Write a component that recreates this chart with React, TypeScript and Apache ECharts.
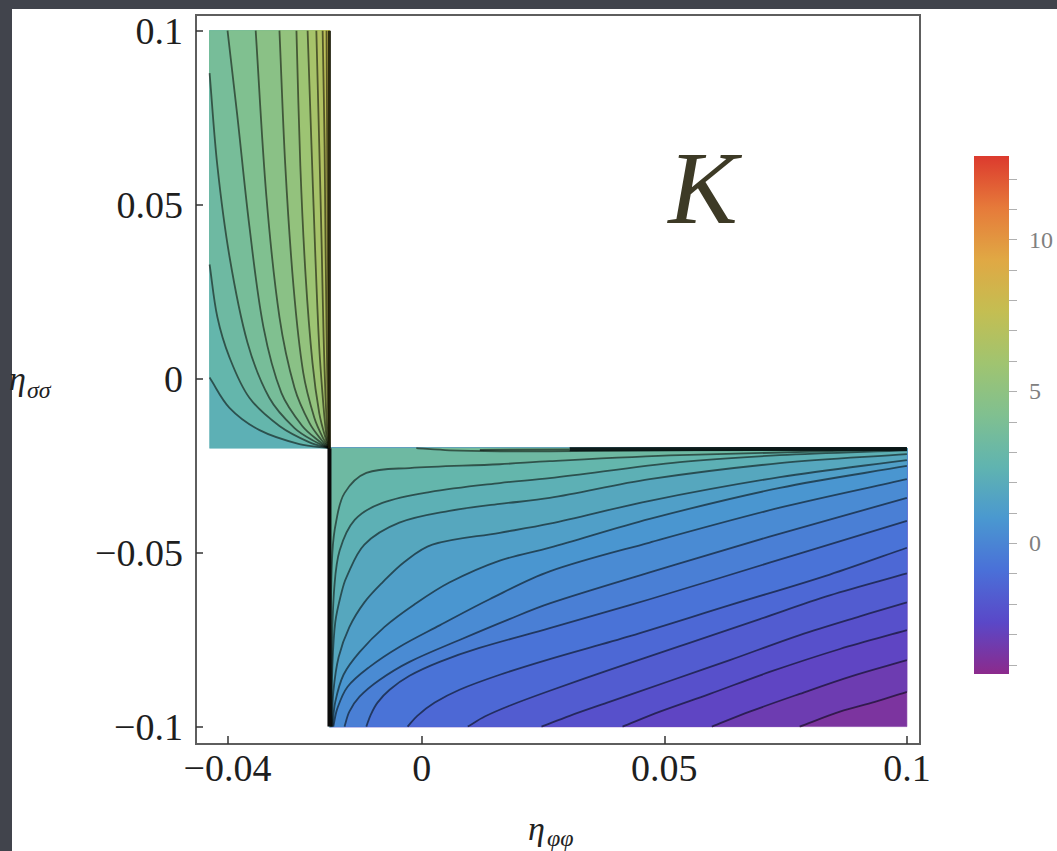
import React, { useEffect, useRef } from "react";
import * as echarts from "echarts";

// ---- axes / ticks ----
const X_TICKS = [-0.04, 0, 0.05, 0.1];
const Y_TICKS = [-0.1, -0.05, 0, 0.05, 0.1];
const BAR_LABELS = [0, 5, 10];
const BAR_TICKS = [-4, -3, -2, -1, 0, 1, 2, 3, 4, 5, 6, 7, 8, 9, 10, 11, 12];

const X_RANGE = [-0.0465, 0.1027];
const Y_RANGE = [-0.105, 0.1045];
const K_RANGE = [-4.3, 12.75];

// ---- domain of the two plotted regions ----
const X_LEFT = -0.0437;
const X_SING = -0.019;
const X_RIGHT = 0.1;
const Y_TOP = 0.1;
const Y_SING = -0.02;
const Y_BOTTOM = -0.1;

// colour scale (low -> high)
const PALETTE = ["#8c2a8c", "#5a48c8", "#4a70d8", "#4a98d0", "#60b4b0", "#80c090", "#a0c470", "#c4be52", "#e0a844", "#e67a3a", "#dc3a2e"];

// ---- contour levels and contour lines ----
const LR_LEVELS = [-3.5, -3, -2.5, -2, -1.5, -1, -0.5, 0, 0.5, 1, 1.5, 2, 2.5, 3, 3.5];
const LR_CONTOURS: number[][][] = [
  [[0.0779, -0.1], [0.0862, -0.0957], [0.0934, -0.0929], [0.1, -0.09]],
  [[0.0598, -0.1], [0.0676, -0.0957], [0.0779, -0.0906], [0.0882, -0.0857], [0.1, -0.0809]],
  [[0.0414, -0.1], [0.0491, -0.0957], [0.0594, -0.0906], [0.0717, -0.0843], [0.0862, -0.0777], [0.1, -0.0723]],
  [[0.0247, -0.1], [0.0305, -0.0969], [0.0387, -0.0929], [0.0511, -0.0869], [0.0635, -0.0809], [0.0779, -0.0737], [0.0903, -0.0683], [0.1, -0.0643]],
  [[0.0095, -0.1], [0.013, -0.0971], [0.0181, -0.094], [0.0264, -0.0897], [0.0387, -0.0837], [0.0532, -0.0769], [0.0697, -0.0691], [0.0841, -0.0623], [0.1, -0.056]],
  [[-0.0029, -0.1], [-0.0009, -0.0969], [0.0027, -0.0931], [0.0078, -0.0894], [0.0161, -0.0851], [0.0264, -0.0806], [0.0429, -0.074], [0.0635, -0.0651], [0.0841, -0.0563], [0.1, -0.0486]],
  [[-0.0114, -0.1], [-0.0105, -0.0966], [-0.0091, -0.0931], [-0.0066, -0.0894], [-0.0025, -0.0854], [0.0037, -0.0814], [0.0119, -0.0774], [0.0264, -0.0717], [0.047, -0.0634], [0.0717, -0.0529], [0.1, -0.0409]],
  [[-0.0159, -0.1], [-0.0149, -0.0957], [-0.0128, -0.0914], [-0.0087, -0.0866], [-0.0025, -0.0814], [0.0078, -0.0751], [0.0181, -0.0691], [0.0264, -0.0646], [0.047, -0.0557], [0.0717, -0.0454], [0.1, -0.0343]],
  [[-0.0182, -0.1], [-0.0174, -0.0949], [-0.0153, -0.0886], [-0.0108, -0.0829], [-0.0046, -0.0771], [0.0037, -0.0709], [0.014, -0.0634], [0.0264, -0.0554], [0.047, -0.0471], [0.0738, -0.0371], [0.1, -0.0289]],
  [[-0.0184, -0.1], [-0.0178, -0.0929], [-0.0161, -0.0851], [-0.0128, -0.0786], [-0.0077, -0.0714], [-0.0015, -0.0649], [0.0057, -0.0586], [0.0161, -0.0523], [0.0264, -0.0486], [0.047, -0.0403], [0.0738, -0.0314], [0.1, -0.0251]],
  [[-0.0185, -0.1], [-0.0182, -0.09], [-0.0171, -0.08], [-0.0149, -0.0714], [-0.0118, -0.0643], [-0.0081, -0.0586], [-0.0035, -0.0526], [0.0022, -0.0477], [0.0161, -0.0443], [0.0264, -0.0417], [0.047, -0.0351], [0.0738, -0.0283], [0.1, -0.0234]],
  [[-0.0186, -0.1], [-0.0184, -0.0829], [-0.0178, -0.07], [-0.0165, -0.0614], [-0.0155, -0.0571], [-0.0118, -0.0477], [-0.0046, -0.0414], [0.0057, -0.038], [0.0161, -0.036], [0.0264, -0.0343], [0.047, -0.0289], [0.0738, -0.0243], [0.1, -0.0217]],
  [[-0.0187, -0.1], [-0.0185, -0.0771], [-0.018, -0.06], [-0.0169, -0.0494], [-0.0138, -0.0406], [-0.0081, -0.0357], [0.0016, -0.0326], [0.0161, -0.03], [0.0264, -0.0286], [0.0532, -0.024], [0.0738, -0.022], [0.1, -0.0206]],
  [[-0.0188, -0.1], [-0.0187, -0.0686], [-0.0184, -0.05], [-0.0176, -0.0409], [-0.0159, -0.0329], [-0.0114, -0.0271], [-0.0025, -0.0257], [0.0161, -0.0246], [0.0264, -0.0237], [0.0532, -0.022], [0.1, -0.0203]],
  [[-0.0011, -0.02], [0.0057, -0.0206], [0.0161, -0.0209], [0.0264, -0.0209], [0.0429, -0.0207], [0.1, -0.0201]],
];

const UL_LEVELS = [2.5, 3, 3.5, 4, 4.5, 5, 5.5, 6, 6.5, 7, 7.5];
const UL_CONTOURS: number[][][] = [
  [[-0.019, -0.02], [-0.0252, -0.0188], [-0.0334, -0.0148], [-0.0396, -0.0084], [-0.0437, 0.0003]],
  [[-0.019, -0.02], [-0.0231, -0.0183], [-0.0293, -0.0136], [-0.0355, -0.0055], [-0.0396, 0.0061], [-0.0421, 0.0177], [-0.0437, 0.0328]],
  [[-0.019, -0.02], [-0.0217, -0.0183], [-0.0262, -0.0142], [-0.0314, -0.0055], [-0.0359, 0.0104], [-0.0396, 0.0351], [-0.0421, 0.0612], [-0.0437, 0.0878]],
  [[-0.019, -0.02], [-0.0211, -0.018], [-0.0246, -0.0136], [-0.0289, -0.0041], [-0.0326, 0.0148], [-0.0355, 0.0438], [-0.038, 0.0757], [-0.04, 0.1]],
  [[-0.019, -0.02], [-0.0206, -0.0177], [-0.0231, -0.0128], [-0.0262, -0.0026], [-0.0293, 0.0177], [-0.032, 0.0525], [-0.0342, 0.1]],
  [[-0.019, -0.02], [-0.0202, -0.0174], [-0.0221, -0.0113], [-0.0244, 0.0017], [-0.0264, 0.0264], [-0.0281, 0.0612], [-0.0293, 0.1]],
  [[-0.019, -0.02], [-0.0198, -0.0171], [-0.0211, -0.0099], [-0.0225, 0.0046], [-0.0239, 0.0293], [-0.025, 0.0612], [-0.0258, 0.1]],
  [[-0.019, -0.02], [-0.0196, -0.0165], [-0.0202, -0.0084], [-0.0211, 0.009], [-0.0219, 0.0351], [-0.0227, 0.067], [-0.0235, 0.1]],
  [[-0.019, -0.02], [-0.0194, -0.0157], [-0.0198, -0.0055], [-0.0202, 0.0119], [-0.0206, 0.038], [-0.0211, 0.067], [-0.0217, 0.1]],
  [[-0.019, -0.02], [-0.0192, -0.0142], [-0.0194, -0.0026], [-0.0196, 0.0148], [-0.0198, 0.038], [-0.02, 0.067], [-0.0204, 0.1]],
  [[-0.019, -0.02], [-0.0191, -0.0113], [-0.0192, 0.009], [-0.0194, 0.0525], [-0.0196, 0.1]],
];

// dense contour pile-up along the upper edge of the lower region
const TOP_PILE_FAINT = [[0.012, -0.0205], [0.0305, -0.0204]];
const TOP_PILE = [[0.0305, -0.0203], [0.1, -0.0202]];

const SERIF = '"Liberation Serif", "Times New Roman", serif';

type Shape = { kind: "fill" | "line"; pts: number[][]; close: number[][]; value: number; stroke?: string; width?: number; smooth?: boolean };

function buildShapes(): Shape[] {
  const shapes: Shape[] = [];
  const lrStep = (LR_LEVELS[1] - LR_LEVELS[0]) / 2;
  const ulStep = (UL_LEVELS[1] - UL_LEVELS[0]) / 2;
  // lower-right region
  shapes.push({ kind: "fill", value: LR_LEVELS[0] - lrStep, pts: [[X_SING, Y_SING], [X_RIGHT, Y_SING], [X_RIGHT, Y_BOTTOM], [X_SING, Y_BOTTOM]], close: [] });
  LR_CONTOURS.forEach((c, i) => {
    const s = c[0];
    const close = Math.abs(s[1] - Y_BOTTOM) < 1e-9
      ? [[X_RIGHT, Y_SING], [X_SING, Y_SING], [X_SING, Y_BOTTOM]]
      : [[X_RIGHT, Y_SING]];
    shapes.push({ kind: "fill", value: LR_LEVELS[i] + lrStep, pts: c, close, smooth: true });
  });
  // upper-left region
  shapes.push({ kind: "fill", value: UL_LEVELS[0] - ulStep, pts: [[X_LEFT, Y_SING], [X_SING, Y_SING], [X_SING, Y_TOP], [X_LEFT, Y_TOP]], close: [] });
  UL_CONTOURS.forEach((c, i) => {
    const e = c[c.length - 1];
    const close = Math.abs(e[0] - X_LEFT) < 1e-9 ? [[X_LEFT, Y_TOP], [X_SING, Y_TOP]] : [[X_SING, Y_TOP]];
    shapes.push({ kind: "fill", value: UL_LEVELS[i] + ulStep, pts: c, close, smooth: true });
  });
  // contour lines
  [...LR_CONTOURS, ...UL_CONTOURS].forEach((c) => {
    shapes.push({ kind: "line", value: 0, pts: c, close: [], stroke: "rgba(0,0,0,0.55)", width: 1.8, smooth: true });
  });
  shapes.push({ kind: "line", value: 0, pts: TOP_PILE_FAINT, close: [], stroke: "rgba(0,0,0,0.55)", width: 2 });
  shapes.push({ kind: "line", value: 0, pts: TOP_PILE, close: [], stroke: "rgba(8,20,20,0.95)", width: 4 });
  shapes.push({ kind: "line", value: 0, pts: [[X_SING, Y_TOP], [X_SING, Y_SING]], close: [], stroke: "rgba(28,28,8,0.9)", width: 3 });
  shapes.push({ kind: "line", value: 0, pts: [[X_SING, Y_SING], [X_SING, Y_BOTTOM]], close: [], stroke: "#0b0b0b", width: 4 });
  return shapes;
}

// smooth curve through the given pixel points (cubic segments, tangent length limited to a third of each segment)
function curvePath(p: number[][], smooth: boolean): string {
  const n = p.length;
  let d = `M${p[0][0].toFixed(2)},${p[0][1].toFixed(2)}`;
  if (!smooth || n < 3) {
    for (let i = 1; i < n; i++) d += ` L${p[i][0].toFixed(2)},${p[i][1].toFixed(2)}`;
    return d;
  }
  const tan = p.map((_, i) => {
    const a = p[Math.max(0, i - 1)];
    const b = p[Math.min(n - 1, i + 1)];
    const dx = b[0] - a[0];
    const dy = b[1] - a[1];
    const l = Math.hypot(dx, dy) || 1;
    return [dx / l, dy / l];
  });
  for (let i = 0; i < n - 1; i++) {
    const a = p[i];
    const b = p[i + 1];
    const s = Math.hypot(b[0] - a[0], b[1] - a[1]) / 3;
    const c1 = [a[0] + tan[i][0] * s, a[1] + tan[i][1] * s];
    const c2 = [b[0] - tan[i + 1][0] * s, b[1] - tan[i + 1][1] * s];
    d += ` C${c1[0].toFixed(2)},${c1[1].toFixed(2)} ${c2[0].toFixed(2)},${c2[1].toFixed(2)} ${b[0].toFixed(2)},${b[1].toFixed(2)}`;
  }
  return d;
}

const fmt = (v: number) => (v < 0 ? "\u2212" : "") + String(Math.abs(v));

function txt(x: number, y: number, text: string, size: number, color: string, italic: boolean, align = "left") {
  return {
    type: "text",
    x,
    y,
    silent: true,
    style: {
      text,
      font: `${italic ? "italic " : ""}${size}px ${SERIF}`,
      fontSize: size,
      fontStyle: italic ? "italic" : "normal",
      fontFamily: SERIF,
      fill: color,
      textFill: color,
      align,
      textAlign: align,
      verticalAlign: "middle",
      textVerticalAlign: "middle",
    },
  };
}

export default function App() {
  const ref = useRef<HTMLDivElement>(null);
  useEffect(() => {
    if (!ref.current) return;
    const chart = echarts.init(ref.current, null, { renderer: "svg", width: 1057, height: 851 });
    const shapes = buildShapes();
    const gradStops = PALETTE.map((c, i) => ({ offset: i / (PALETTE.length - 1), color: c }));
    chart.setOption({
      animation: false,
      backgroundColor: "transparent",
      grid: [
        { left: 196, top: 15, width: 724, height: 729, show: true, borderColor: "#5e5e5e", borderWidth: 2, backgroundColor: "transparent" },
        { left: 974, top: 156, width: 35, height: 518, show: false },
      ],
      xAxis: [
        {
          type: "value", gridIndex: 0, min: X_RANGE[0], max: X_RANGE[1],
          splitLine: { show: false }, axisLine: { show: false, onZero: false },
          axisTick: { show: true, inside: true, length: 8, customValues: X_TICKS, lineStyle: { color: "#333", width: 1.5 } },
          axisLabel: { customValues: X_TICKS, formatter: fmt, fontFamily: SERIF, fontSize: 38, color: "#1e1e1e", margin: 5 },
        },
        { type: "value", gridIndex: 1, min: 0, max: 1, show: false },
      ],
      yAxis: [
        {
          type: "value", gridIndex: 0, min: Y_RANGE[0], max: Y_RANGE[1],
          splitLine: { show: false }, axisLine: { show: false, onZero: false },
          axisTick: { show: true, inside: true, length: 7, customValues: Y_TICKS, lineStyle: { color: "#333", width: 1.5 } },
          axisLabel: { customValues: Y_TICKS, formatter: fmt, fontFamily: SERIF, fontSize: 38, color: "#1e1e1e", margin: 13 },
        },
        {
          type: "value", gridIndex: 1, min: K_RANGE[0], max: K_RANGE[1], position: "right",
          splitLine: { show: false }, axisLine: { show: false, onZero: false },
          axisTick: { show: true, length: 8, customValues: BAR_TICKS, lineStyle: { color: "#b0b0b0", width: 1 } },
          axisLabel: { customValues: BAR_LABELS, fontFamily: SERIF, fontSize: 24, color: "#808080", margin: 20 },
        },
      ],
      visualMap: {
        type: "continuous", show: false, min: K_RANGE[0], max: K_RANGE[1], dimension: 2, seriesIndex: 0,
        inRange: { color: PALETTE },
      },
      series: [
        {
          type: "custom", xAxisIndex: 0, yAxisIndex: 0, silent: true,
          encode: { x: 0, y: 1 },
          data: shapes.map((s) => [s.pts[0][0], s.pts[0][1], s.value]),
          renderItem: (params: any, api: any) => {
            const s = shapes[params.dataIndex];
            const px = s.pts.map((p) => api.coord(p));
            let d = curvePath(px, !!s.smooth);
            if (s.kind === "fill") {
              s.close.forEach((p) => {
                const q = api.coord(p);
                d += ` L${q[0].toFixed(2)},${q[1].toFixed(2)}`;
              });
              d += " Z";
              const c = api.visual("color");
              return { type: "path", shape: { pathData: d }, style: { fill: c, stroke: c, lineWidth: 0.6 } };
            }
            return { type: "path", shape: { pathData: d }, style: { fill: "none", stroke: s.stroke, lineWidth: s.width, lineJoin: "round" } };
          },
        },
        {
          type: "custom", xAxisIndex: 1, yAxisIndex: 1, silent: true,
          data: [[0, K_RANGE[0]]],
          renderItem: (_params: any, api: any) => {
            const a = api.coord([0, K_RANGE[1]]);
            const b = api.coord([1, K_RANGE[0]]);
            return {
              type: "rect",
              shape: { x: a[0], y: a[1], width: b[0] - a[0], height: b[1] - a[1] },
              style: { fill: new echarts.graphic.LinearGradient(0, 1, 0, 0, gradStops) },
            };
          },
        },
      ],
      graphic: [
        txt(703, 187, "K", 104, "#3d3a26", true, "center"),
        txt(9, 378, "η", 34, "#222", true),
        txt(27, 390, "σσ", 24, "#222", true),
        txt(528, 828, "η", 34, "#222", true),
        txt(547, 838, "φφ", 24, "#222", true),
      ],
    });
    return () => chart.dispose();
  }, []);
  return (
    <div style={{ position: "fixed", left: 0, top: 0, width: 1057, height: 851, background: "#41444c", overflow: "hidden" }}>
      <div style={{ position: "absolute", left: 12, top: 9, right: 0, bottom: 0, background: "#ffffff" }} />
      <div ref={ref} style={{ position: "absolute", left: 0, top: 0, width: 1057, height: 851 }} />
    </div>
  );
}
